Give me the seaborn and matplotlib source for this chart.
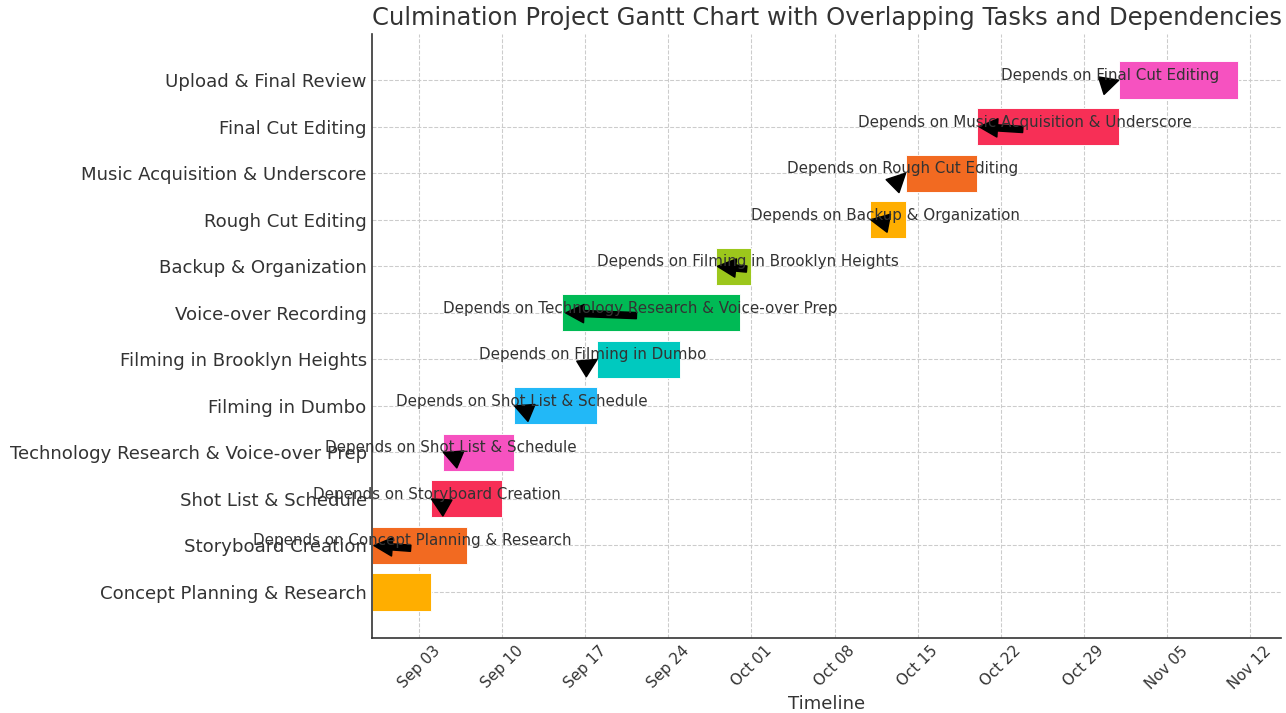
import matplotlib
matplotlib.use("Agg")
import matplotlib.pyplot as plt
import matplotlib.dates as mdates
import pandas as pd
import seaborn as sns

# ---- data ----
tasks = [
    "Concept Planning & Research",
    "Storyboard Creation",
    "Shot List & Schedule",
    "Technology Research & Voice-over Prep",
    "Filming in Dumbo",
    "Filming in Brooklyn Heights",
    "Voice-over Recording",
    "Backup & Organization",
    "Rough Cut Editing",
    "Music Acquisition & Underscore",
    "Final Cut Editing",
    "Upload & Final Review",
]
starts = [
    "2023-08-30", "2023-08-30", "2023-09-04", "2023-09-05", "2023-09-11", "2023-09-18",
    "2023-09-15", "2023-09-28", "2023-10-11", "2023-10-14", "2023-10-20", "2023-11-01",
]
ends = [
    "2023-09-04", "2023-09-07", "2023-09-10", "2023-09-11", "2023-09-18", "2023-09-25",
    "2023-09-30", "2023-10-01", "2023-10-14", "2023-10-20", "2023-11-01", "2023-11-11",
]
dependencies = [
    None,
    "Concept Planning & Research",
    "Storyboard Creation",
    "Shot List & Schedule",
    "Shot List & Schedule",
    "Filming in Dumbo",
    "Technology Research & Voice-over Prep",
    "Filming in Brooklyn Heights",
    "Backup & Organization",
    "Rough Cut Editing",
    "Music Acquisition & Underscore",
    "Final Cut Editing",
]
palette = ["#FFAE00", "#F26A21", "#F72F56", "#F652C0", "#22B8F7", "#00C9BF", "#00BA55", "#9CC71C"]

# ---- style ----
sns.set_theme(style="white")
plt.rcParams["font.family"] = ["DejaVu Sans"]
plt.rcParams["text.color"] = "#333333"
plt.rcParams["axes.labelcolor"] = "#333333"
plt.rcParams["xtick.color"] = "#333333"
plt.rcParams["ytick.color"] = "#333333"

DPI = 109
fig, ax = plt.subplots(figsize=(1286 / DPI, 713 / DPI), dpi=DPI)
fig.subplots_adjust(left=372 / 1286, right=1281 / 1286, bottom=1 - 638 / 713, top=1 - 34 / 713)

df = pd.DataFrame({"task": tasks, "start": pd.to_datetime(starts), "end": pd.to_datetime(ends)})
left = mdates.date2num(df["start"])
width = mdates.date2num(df["end"]) - left
colors = [palette[i % len(palette)] for i in range(len(tasks))]

ax.barh(df["task"], width, left=left, height=0.8, color=colors, edgecolor="white", linewidth=0.6, zorder=2)
ax.xaxis_date()

for i, dep in enumerate(dependencies):
    if dep is None:
        continue
    ax.annotate(
        f"Depends on {dep}",
        xy=(left[i], i),
        xytext=(left[i] - 10, i),
        arrowprops=dict(facecolor="black", edgecolor="black", shrink=0.05),
        fontsize=10,
        color="#333333",
        zorder=5,
    )

ax.xaxis.set_major_locator(mdates.WeekdayLocator(byweekday=mdates.SU))
ax.xaxis.set_major_formatter(mdates.DateFormatter("%b %d"))
plt.setp(ax.get_xticklabels(), rotation=45)

ax.set_axisbelow(True)
ax.grid(True, linestyle="--", color="#cccccc", linewidth=0.7)
for s in ["top", "right"]:
    ax.spines[s].set_visible(False)
for s in ["left", "bottom"]:
    ax.spines[s].set_color("#333333")
    ax.spines[s].set_linewidth(1.1)
ax.tick_params(axis="both", direction="in", length=4.5, width=0.9)
ax.tick_params(axis="y", labelsize=12)
ax.tick_params(axis="x", labelsize=10)

ax.set_xlabel("Timeline", fontsize=12, labelpad=2)
ax.set_title("Culmination Project Gantt Chart with Overlapping Tasks and Dependencies", fontsize=16)

fig.savefig("out.png", dpi=DPI)
